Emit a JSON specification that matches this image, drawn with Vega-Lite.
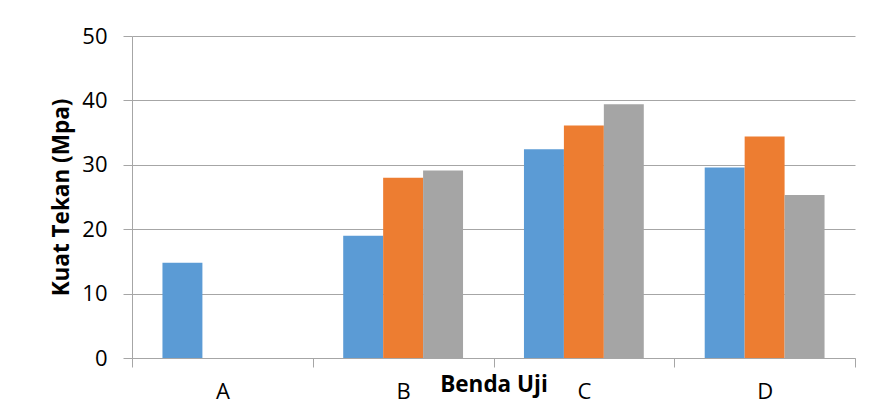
{
  "$schema": "https://vega.github.io/schema/vega-lite/v6.json",
  "autosize": "none",
  "width": 723,
  "height": 322,
  "padding": {"left": 132, "top": 36, "right": 17, "bottom": 42},
  "background": "white",
  "config": {
    "view": {"stroke": null},
    "font": "Open Sans",
    "axis": {
      "labelFont": "Open Sans",
      "labelFontSize": 22,
      "labelColor": "#000000",
      "titleFont": "Open Sans",
      "titleFontWeight": "bold",
      "titleFontSize": 22.5,
      "titleColor": "#000000",
      "domainColor": "#A6A6A6",
      "tickColor": "#A6A6A6",
      "gridColor": "#A6A6A6",
      "tickSize": 9
    }
  },
  "data": {
    "values": [
      {"benda": "A", "seri": "Seri 1", "kuat": 14.8},
      {"benda": "B", "seri": "Seri 1", "kuat": 19.0},
      {"benda": "B", "seri": "Seri 2", "kuat": 28.0},
      {"benda": "B", "seri": "Seri 3", "kuat": 29.1},
      {"benda": "C", "seri": "Seri 1", "kuat": 32.4},
      {"benda": "C", "seri": "Seri 2", "kuat": 36.1},
      {"benda": "C", "seri": "Seri 3", "kuat": 39.4},
      {"benda": "D", "seri": "Seri 1", "kuat": 29.6},
      {"benda": "D", "seri": "Seri 2", "kuat": 34.4},
      {"benda": "D", "seri": "Seri 3", "kuat": 25.3}
    ]
  },
  "mark": {"type": "bar"},
  "encoding": {
    "x": {
      "field": "benda",
      "type": "nominal",
      "scale": {"paddingInner": 0, "paddingOuter": 0},
      "axis": {
        "title": "Benda Uji",
        "labelAngle": 0,
        "labelPadding": 14,
        "labelBaseline": "top",
        "tickBand": "extent",
        "grid": false,
        "titleY": 33,
        "titleBaseline": "alphabetic"
      }
    },
    "xOffset": {
      "field": "seri",
      "type": "nominal",
      "scale": {"domain": ["Seri 1", "Seri 2", "Seri 3"], "paddingInner": 0, "paddingOuter": 0.7625}
    },
    "y": {
      "field": "kuat",
      "type": "quantitative",
      "scale": {"domain": [0, 50], "nice": false},
      "axis": {
        "title": "Kuat Tekan (Mpa)",
        "values": [0, 10, 20, 30, 40, 50],
        "grid": true,
        "labelPadding": 16,
        "titleX": -64,
        "titleBaseline": "alphabetic"
      }
    },
    "color": {
      "field": "seri",
      "type": "nominal",
      "scale": {"domain": ["Seri 1", "Seri 2", "Seri 3"], "range": ["#5B9BD5", "#ED7D31", "#A5A5A5"]},
      "legend": null
    }
  }
}
